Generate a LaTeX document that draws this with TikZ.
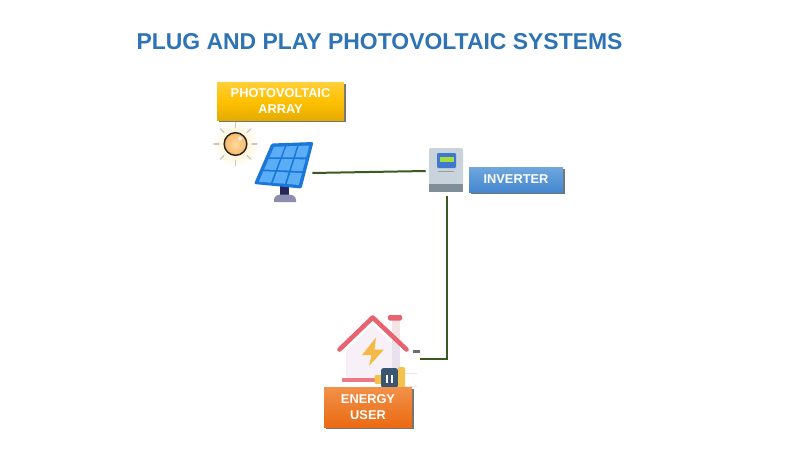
\documentclass[tikz,border=0pt]{standalone}
\usepackage{fontspec}
\setmainfont{Liberation Sans}
\usetikzlibrary{shadows,calc}
\definecolor{titleblue}{HTML}{2E74B5}
\definecolor{wire}{HTML}{3A5A22}
\definecolor{panelblue}{HTML}{1A76D8}
\definecolor{celllight}{HTML}{5BAEF5}
\definecolor{roofred}{HTML}{E8636F}
\definecolor{amberM}{HTML}{FFC000}
\definecolor{amberB}{HTML}{E5AC00}
\definecolor{amberT}{HTML}{FFCF3A}
\definecolor{blueT}{HTML}{6FA7DE}
\definecolor{blueB}{HTML}{4487CF}
\definecolor{orangeT}{HTML}{F2914A}
\definecolor{orangeB}{HTML}{EB6A12}
\definecolor{sunI}{HTML}{FFD9A0}
\definecolor{sunO}{HTML}{F9B868}
\definecolor{invBody}{HTML}{C9D3DB}
\definecolor{invBase}{HTML}{808E99}
\definecolor{invScreen}{HTML}{3F78CF}
\definecolor{invGreen}{HTML}{A6DC3C}
\definecolor{wallA}{HTML}{F7F0F6}
\definecolor{wallB}{HTML}{E8E2EC}
\definecolor{wallC}{HTML}{F3E4E6}
\definecolor{boltY}{HTML}{F5B945}
\definecolor{plugY}{HTML}{F5C24D}
\definecolor{plugD}{HTML}{3B5670}
\tikzset{
  x=0.75pt,y=-0.75pt,
  label box/.style={draw=none,inner sep=0pt,align=center,text=white,
    font=\bfseries\fontsize{9.6}{12.2}\selectfont,
    drop shadow={shadow xshift=1.2pt,shadow yshift=-1.5pt,opacity=.55,fill=black}},
  connector/.style={draw=wire,line width=1.5pt,line join=miter},
  anchor pt/.style={inner sep=0pt,minimum size=0pt},
  ray/.style={line width=1pt,line cap=round,draw=#1},
}
\begin{document}
\begin{tikzpicture}
\useasboundingbox (0,0) rectangle (800,450);
\fill[white] (0,0) rectangle (800,450);
% title
\node[anchor=base,inner sep=0pt,text=titleblue,font=\bfseries\fontsize{17.2}{20}\selectfont] (title) at (379.5,49) {PLUG AND PLAY PHOTOVOLTAIC SYSTEMS};
% sun
\node[circle,minimum size=34.5pt,inner sep=0pt,inner color=amberM!30,outer color=white] (sunglow) at (235.5,144) {};
\foreach \a in {0,45,...,315}{
  \draw[ray=gray!45] ($(235.5,144)+(\a:16.5)$) -- ($(235.5,144)+(\a:21.5)$);
}
\node[circle,draw=black!85,line width=1.1pt,minimum size=17pt,inner sep=0pt,inner color=sunI,outer color=sunO] (sun) at (235.5,144) {};
\fill[white,opacity=.8] (240,138.5) circle (2);
% solar panel
\fill[gray!60!blue!50!black] (280,186) rectangle (289,196);
\fill[black!70!blue!45] (274,202) -- (274,200) .. controls (274,196) and (278,194.5) .. (281,194.5) -- (288,194.5) .. controls (292,194.5) and (296,196) .. (296,200) -- (296,202) -- cycle;
\fill[panelblue,rounded corners=1pt] (271.5,143.5) -- (313.5,142) -- (301.5,188.5) -- (254,184) -- cycle;
\foreach \i in {0,1,2}{\foreach \j in {0,1,2}{
  \fill[celllight]
   ($($(273.5,146)!{(\i+.07)/3}!(310.5,144.5)$)!{(\j+.07)/3}!($(257.5,182.5)!{(\i+.07)/3}!(299.5,186)$)$) --
   ($($(273.5,146)!{(\i+.93)/3}!(310.5,144.5)$)!{(\j+.07)/3}!($(257.5,182.5)!{(\i+.93)/3}!(299.5,186)$)$) --
   ($($(273.5,146)!{(\i+.93)/3}!(310.5,144.5)$)!{(\j+.93)/3}!($(257.5,182.5)!{(\i+.93)/3}!(299.5,186)$)$) --
   ($($(273.5,146)!{(\i+.07)/3}!(310.5,144.5)$)!{(\j+.93)/3}!($(257.5,182.5)!{(\i+.07)/3}!(299.5,186)$)$) -- cycle;
}}
\node[anchor pt] (panel) at (312,173) {};
% inverter
\fill[rounded corners=1pt,fill=invBody] (429,148) rectangle (463,185);
\fill[fill=invBase] (429,184) rectangle (463,192);
\fill[rounded corners=.8pt,fill=invScreen] (437,153) rectangle (456,168);
\fill[fill=invGreen] (439.5,157) rectangle (453.5,162);
\fill[fill=gray!75] (438,170.5) rectangle (454,172);
\node[anchor pt] (invW) at (426,171) {};
\node[anchor pt] (invS) at (447,196) {};
% house
\fill[wallA] (346,351) -- (372.7,324) -- (400,351) -- (400,378) -- (346,378) -- cycle;
\fill[wallB] (392,336) rectangle (400,378);
\fill[wallC] (392,320) rectangle (400,340);
\fill[roofred,rounded corners=1pt] (388,315) rectangle (402,320.5);
\draw[roofred,line width=3.4pt,line cap=round,line join=round] (339.5,349.5) -- (372.7,317.5) -- (406.5,349.5);
\fill[boltY] (376,337.5) -- (362,355) -- (371.5,355) -- (369,366) -- (384,349.5) -- (374.5,349.5) -- cycle;
\fill[fill=gray!85!black] (413,350) rectangle (420,352.5);
\fill[roofred!85] (342,377.5) rectangle (375,381.5);
\fill[gray!20] (405,372.5) rectangle (417,373.5);
\fill[gray!20] (405,385.5) rectangle (417,386.5);
\fill[plugY,rounded corners=1pt] (374.5,375) rectangle (382,384);
\fill[plugD,rounded corners=2pt] (381,368) rectangle (398,388);
\fill[plugY,rounded corners=1pt] (398,367) rectangle (405,388);
\fill[white] (386,375) rectangle (388,383);
\fill[white] (391,375) rectangle (393,383);
\node[anchor pt] (houseE) at (420,358.5) {};
% connectors
\draw[connector] (panel) -- (invW);
\draw[connector] (invS) |- (houseE);
% labels
\node[label box,minimum width=95.25pt,minimum height=28.5pt,top color=amberT,bottom color=amberB,middle color=amberM] (pv) at (280.5,101) {PHOTOVOLTAIC\\ARRAY};
\node[label box,minimum width=70.5pt,minimum height=18.75pt,top color=blueT,bottom color=blueB] (inv) at (516,179.5) {INVERTER};
\node[label box,minimum width=66pt,minimum height=30pt,top color=orangeT,bottom color=orangeB] (user) at (368,407) {ENERGY\\USER};
\end{tikzpicture}
\end{document}
